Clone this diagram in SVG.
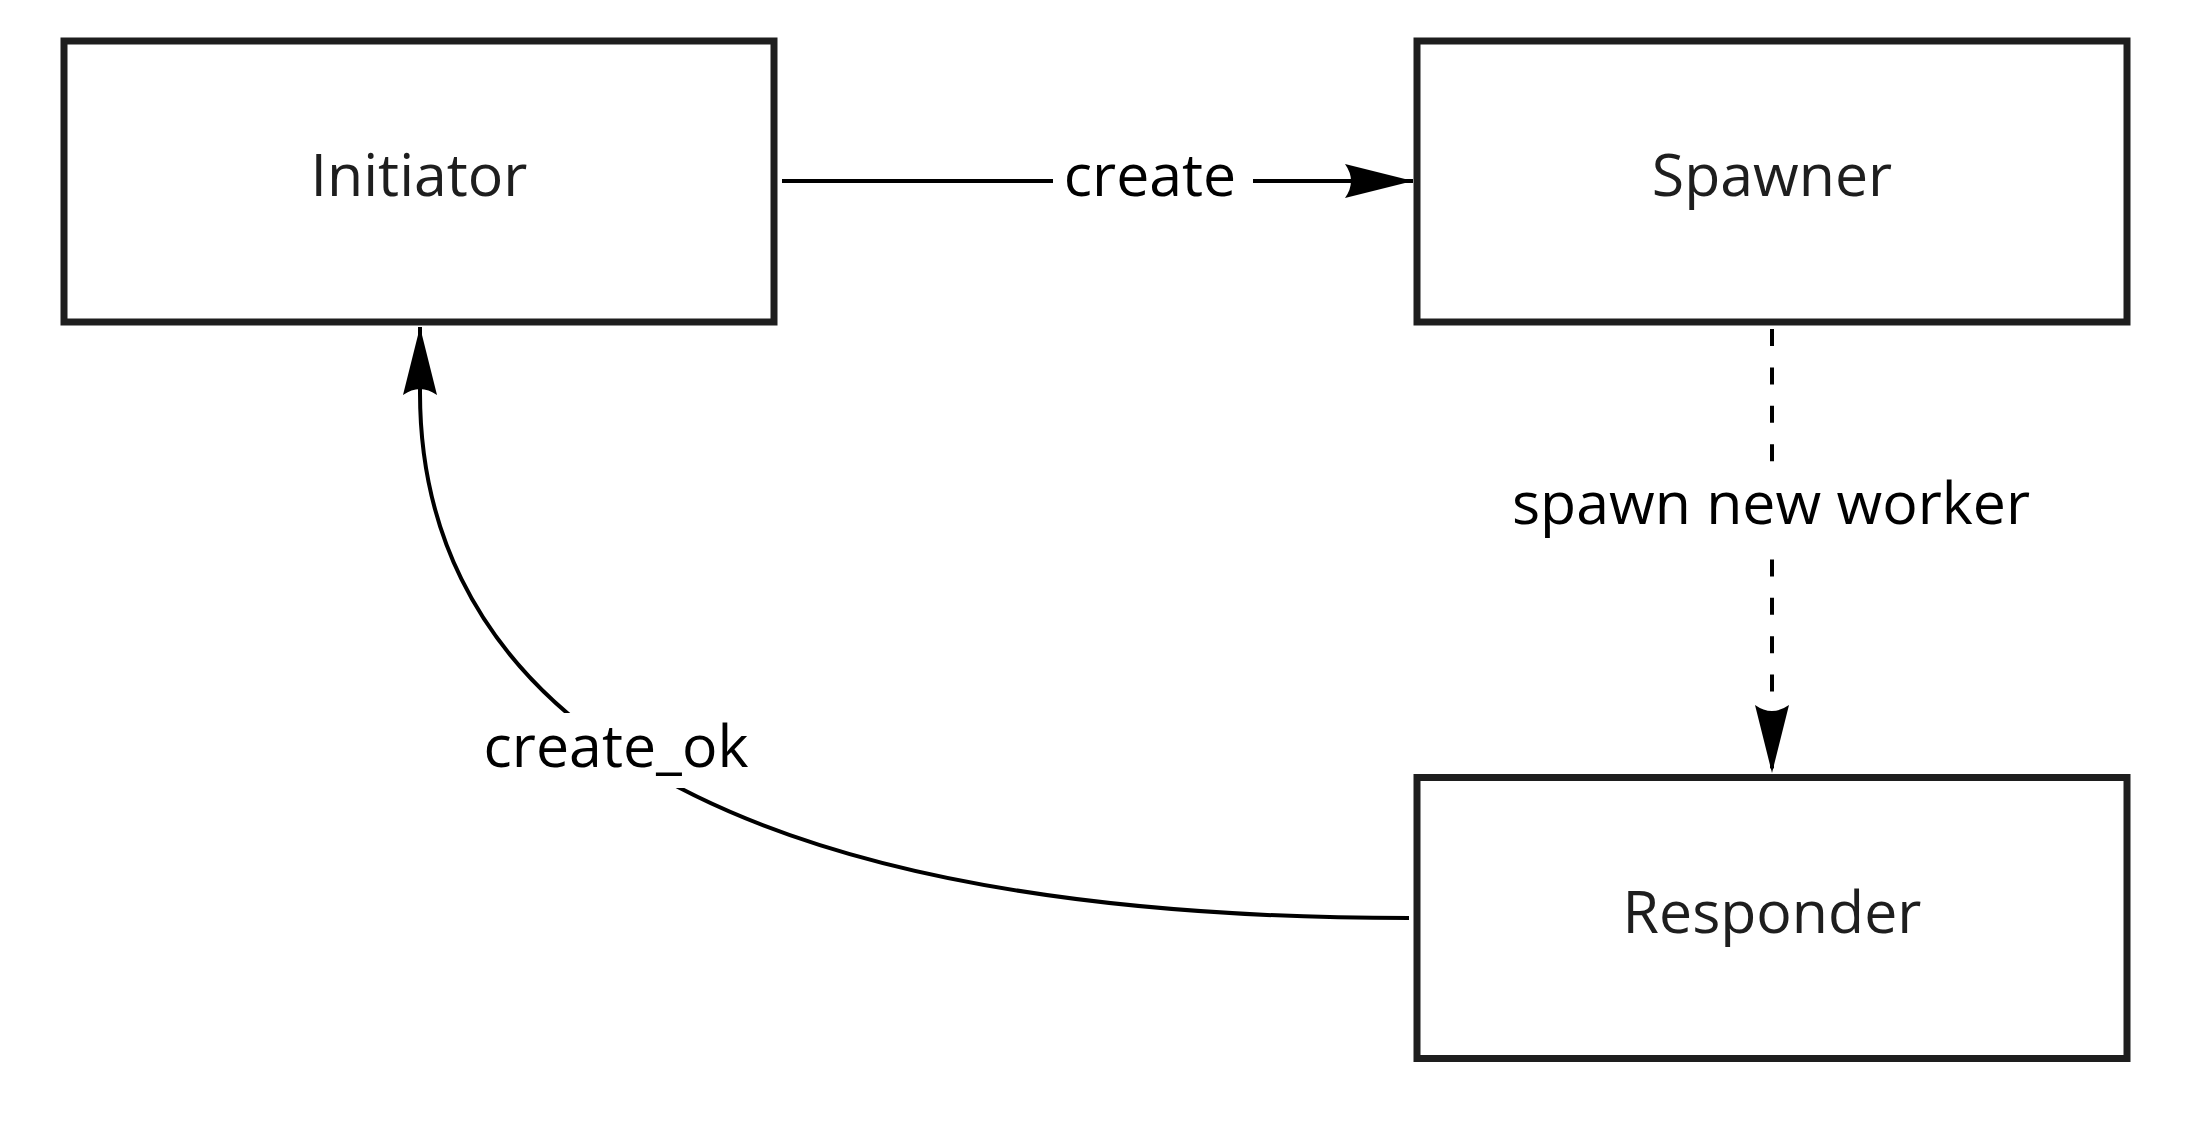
<svg xmlns="http://www.w3.org/2000/svg" width="2204" height="1130" viewBox="0 0 2204 1130">
<style>
.node rect{fill:#ffffff;stroke:#1e1e1e;stroke-width:7}
.node text{font-family:"Open Sans","Noto Sans",sans-serif;font-size:59px;fill:#1e1e1e;text-anchor:middle}
.edge{fill:none;stroke:#000000;stroke-width:4}
.dashed{stroke-dasharray:17 21.4}
.lbg{fill:#ffffff;stroke:none}
.lbl{font-family:"Open Sans","Noto Sans",sans-serif;font-size:59px;fill:#000000;text-anchor:middle}
</style>
<defs>
<marker id="arrow" markerUnits="userSpaceOnUse" markerWidth="70" markerHeight="36" viewBox="0 0 70 34" refX="68" refY="17" orient="auto">
<path d="M0,0 L68,17 L0,34 Q12,17 0,0 Z" fill="#000000"/>
</marker>
</defs>
<rect width="2204" height="1130" fill="#ffffff"/>
<g id="connectors">
<path class="edge" d="M782,181 L1413,181" marker-end="url(#arrow)"/>
<path class="edge dashed" d="M1772,329 L1772,773" marker-end="url(#arrow)"/>
<path class="edge" d="M1409,918 C605,918 420,640 420,393 L420,327" marker-end="url(#arrow)"/>
<g id="edge-labels">
<rect class="lbg" x="1053" y="150" width="200" height="62"/>
<text class="lbl" x="1150" y="196">create</text>
<rect class="lbg" x="1505" y="462" width="530" height="96"/>
<text class="lbl" x="1771" y="524">spawn new worker</text>
<rect class="lbg" x="478" y="713" width="280" height="75"/>
<text class="lbl" x="616" y="767">create_ok</text>
</g>
</g>
<g id="node-initiator" class="node">
<rect x="64" y="41" width="710" height="281"/>
<text x="419" y="196">Initiator</text>
</g>
<g id="node-spawner" class="node">
<rect x="1417" y="41" width="710" height="281"/>
<text x="1772" y="196">Spawner</text>
</g>
<g id="node-responder" class="node">
<rect x="1417" y="777.5" width="710" height="281"/>
<text x="1772" y="933">Responder</text>
</g>
</svg>
